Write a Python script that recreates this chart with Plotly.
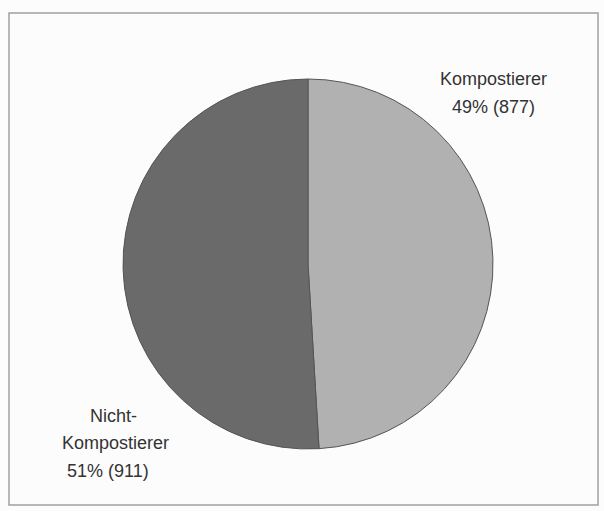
import plotly.graph_objects as go

categories = ["Kompostierer", "Nicht-Kompostierer"]
values = [877, 911]
label_lines = [["Kompostierer"], ["Nicht-", "Kompostierer"]]
slice_colors = ["#b1b1b1", "#6a6a6a"]

W, H = 604, 511
total = sum(values)
pcts = [round(100 * v / total) for v in values]

cx, cy, r = 308, 264, 185

fig = go.Figure()
fig.add_trace(go.Pie(
    labels=categories,
    values=values,
    sort=False,
    direction="clockwise",
    rotation=0,
    textinfo="none",
    hoverinfo="label+value+percent",
    marker=dict(colors=slice_colors, line=dict(color="#555555", width=1)),
    domain=dict(x=[(cx - r) / W, (cx + r) / W], y=[(H - cy - r) / H, (H - cy + r) / H]),
    showlegend=False,
))

# label positions (pixel centres) for each line
positions = [
    [(493, 79), (493, 107)],
    [(113, 416), (115, 443), (108, 471)],
]
for i, cat in enumerate(categories):
    lines = label_lines[i] + [f"{pcts[i]}% ({values[i]})"]
    for (px, py), txt in zip(positions[i], lines):
        fig.add_annotation(
            x=px / W, y=1 - py / H, xref="paper", yref="paper",
            text=txt, showarrow=False, xanchor="center", yanchor="middle",
            font=dict(family="Liberation Sans, Arial, sans-serif",
                      size=18, color="#333333"),
        )

fig.add_shape(type="rect", xref="paper", yref="paper",
              x0=9 / W, x1=598 / W, y0=1 - 505 / H, y1=1 - 13 / H,
              line=dict(color="#a0a0a0", width=1.5))

fig.update_layout(
    width=W, height=H,
    margin=dict(l=0, r=0, t=0, b=0),
    paper_bgcolor="#fcfcfc",
    plot_bgcolor="#fcfcfc",
)
fig.write_html("out.html", config={"displayModeBar": False},
               post_script="document.body.style.margin='0px';")
